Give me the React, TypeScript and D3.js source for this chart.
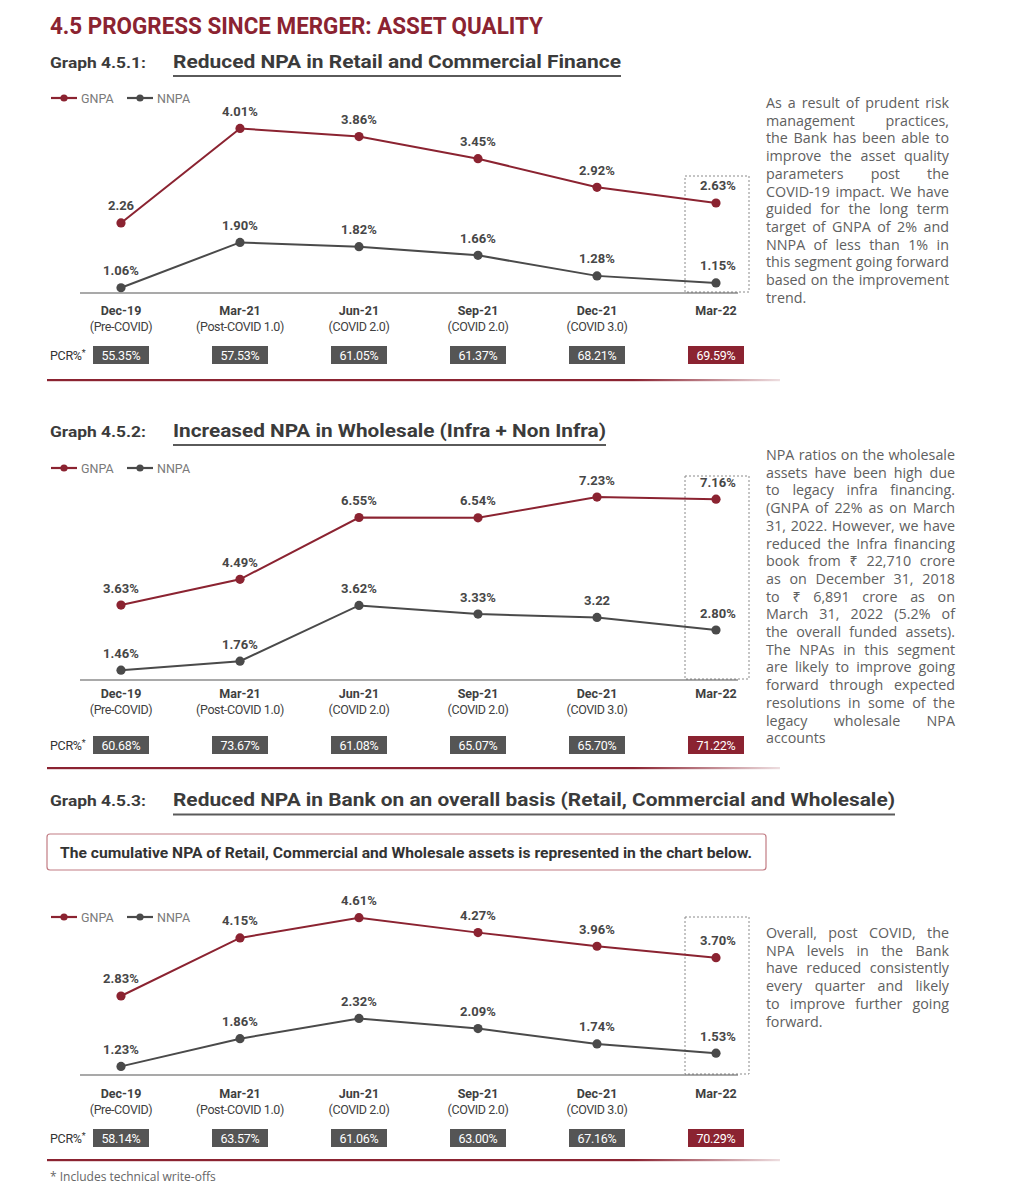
import React, { useLayoutEffect, useRef } from 'react';
import * as d3 from 'd3';

const categories = ['Dec-19', 'Mar-21', 'Jun-21', 'Sep-21', 'Dec-21', 'Mar-22'];
const phases = ['(Pre-COVID)', '(Post-COVID 1.0)', '(COVID 2.0)', '(COVID 2.0)', '(COVID 3.0)', ''];

// Graph 4.5.1 retail and commercial
const retailGnpa = [2.26, 4.01, 3.86, 3.45, 2.92, 2.63];
const retailNnpa = [1.06, 1.9, 1.82, 1.66, 1.28, 1.15];
const retailPcr = [55.35, 57.53, 61.05, 61.37, 68.21, 69.59];

// Graph 4.5.2 wholesale
const wholesaleGnpa = [3.63, 4.49, 6.55, 6.54, 7.23, 7.16];
const wholesaleNnpa = [1.46, 1.76, 3.62, 3.33, 3.22, 2.8];
const wholesalePcr = [60.68, 73.67, 61.08, 65.07, 65.7, 71.22];

// Graph 4.5.3 overall
const overallGnpa = [2.83, 4.15, 4.61, 4.27, 3.96, 3.7];
const overallNnpa = [1.23, 1.86, 2.32, 2.09, 1.74, 1.53];
const overallPcr = [58.14, 63.57, 61.06, 63.0, 67.16, 70.29];

const retailText = [
  'As a result of prudent risk',
  'management practices,',
  'the Bank has been able to',
  'improve the asset quality',
  'parameters post the',
  'COVID-19 impact. We have',
  'guided for the long term',
  'target of GNPA of 2% and',
  'NNPA of less than 1% in',
  'this segment going forward',
  'based on the improvement',
  'trend.',
];

const wholesaleText = [
  'NPA ratios on the wholesale',
  'assets have been high due',
  'to legacy infra financing.',
  '(GNPA of 22% as on March',
  '31, 2022. However, we have',
  'reduced the Infra financing',
  'book from \u20B9 22,710 crore',
  'as on December 31, 2018',
  'to \u20B9 6,891 crore as on',
  'March 31, 2022 (5.2% of',
  'the overall funded assets).',
  'The NPAs in this segment',
  'are likely to improve going',
  'forward through expected',
  'resolutions in some of the',
  'legacy wholesale NPA',
  'accounts',
];

const overallText = [
  'Overall, post COVID, the',
  'NPA levels in the Bank',
  'have reduced consistently',
  'every quarter and likely',
  'to improve further going',
  'forward.',
];

const RED = '#8b2331';
const GREY = '#4a4a4a';
const HEAD = 'Roboto, "Liberation Sans", sans-serif';
const BODY = '"Open Sans", "Noto Sans", sans-serif';

const pct = (v: number, plain: boolean) => (plain ? v.toFixed(2) : v.toFixed(2) + '%');

interface ChartProps {
  gnpa: number[];
  nnpa: number[];
  pcr: number[];
  plainG?: number[];
  plainN?: number[];
  zeroY: number;
  unitPx: number;
  legendY: number;
  boxTop: number;
  axisY: number;
  catY: number;
  pcrY: number;
  sepY: number;
}

const NpaChart: React.FC<ChartProps> = ({
  gnpa, nnpa, pcr, plainG = [], plainN = [], zeroY, unitPx, legendY, boxTop, axisY, catY, pcrY, sepY,
}) => {
  const x = d3.scalePoint<string>().domain(categories).range([121, 716]);
  const y = d3.scaleLinear().domain([0, 1]).range([zeroY, zeroY - unitPx]);
  const line = d3.line<number>().x((_, i) => x(categories[i]) as number).y(d => y(d));
  const last = x(categories[categories.length - 1]) as number;

  const series = [
    { vals: gnpa, color: RED, plain: plainG },
    { vals: nnpa, color: GREY, plain: plainN },
  ];

  return (
    <g>
      {/* legend */}
      {[{ name: 'GNPA', color: RED, x0: 51 }, { name: 'NNPA', color: GREY, x0: 127 }].map(l => (
        <g key={l.name}>
          <line x1={l.x0} x2={l.x0 + 26} y1={legendY} y2={legendY} stroke={l.color} strokeWidth={2.2} />
          <circle cx={l.x0 + 13} cy={legendY} r={3.6} fill={l.color} />
          <text x={l.x0 + 30} y={legendY + 4.5} fontFamily={HEAD} fontSize={12.5} fill="#7a7a7a">{l.name}</text>
        </g>
      ))}

      {/* highlight box */}
      <rect x={685} y={boxTop} width={64} height={axisY - 1 - boxTop} fill="none" stroke="#8a8a8a" strokeWidth={1} strokeDasharray="2,2" />

      {/* axis */}
      <line x1={80} x2={738} y1={axisY} y2={axisY} stroke="#555" strokeWidth={1.2} />

      {series.map((s, si) => (
        <g key={si}>
          <path d={line(s.vals) as string} fill="none" stroke={s.color} strokeWidth={2} />
          {s.vals.map((v, i) => (
            <circle key={i} cx={x(categories[i])} cy={y(v)} r={4.6} fill={s.color} />
          ))}
          {s.vals.map((v, i) => (
            <text key={'t' + i} x={(x(categories[i]) as number) + (i === 5 ? 2 : 0)} y={y(v) - 12.5}
              textAnchor="middle" fontFamily={HEAD} fontWeight={700} fontSize={13} fill="#474747">
              {pct(v, s.plain.includes(i))}
            </text>
          ))}
        </g>
      ))}

      {/* category labels */}
      {categories.map((c, i) => (
        <g key={c} fontFamily={HEAD} fill="#3f3f3f" textAnchor="middle" fontSize={12.5}>
          <text x={x(c)} y={catY} fontWeight={700}>{c}</text>
          {phases[i] && <text x={x(c)} y={catY + 16} letterSpacing={-0.4}>{phases[i]}</text>}
        </g>
      ))}

      {/* PCR row */}
      <text x={50} y={pcrY + 4.5} fontFamily={HEAD} fontSize={12.5} fill="#333" letterSpacing={-0.3}>
        PCR%<tspan fontSize={9} dy={-4}>*</tspan>
      </text>
      {pcr.map((p, i) => (
        <g key={i}>
          <rect x={(x(categories[i]) as number) - 28} y={pcrY - 9} width={56} height={18}
            fill={i === pcr.length - 1 ? RED : '#555'} />
          <text x={x(categories[i])} y={pcrY + 4.5} textAnchor="middle" fontFamily={HEAD} fontSize={12.5}
            fill="#fff" letterSpacing={-0.3}>
            {p.toFixed(2)}%
          </text>
        </g>
      ))}

      {/* separator */}
      <rect x={47} y={sepY - 1} width={last + 64 - 47} height={2.2} fill="url(#sepGrad)" />
    </g>
  );
};

// justified paragraph: word spacing set after measuring each line
const Paragraph: React.FC<{ lines: string[]; top: number; width: number }> = ({ lines, top, width }) => {
  const gRef = useRef<SVGGElement>(null);

  useLayoutEffect(() => {
    if (!gRef.current) return;
    const texts = gRef.current.querySelectorAll('text');
    texts.forEach((t, i) => {
      if (i === lines.length - 1) return;
      const gaps = (lines[i].match(/ /g) || []).length;
      if (!gaps) return;
      t.setAttribute('word-spacing', '0');
      const len = (t as SVGTextElement).getComputedTextLength();
      t.setAttribute('word-spacing', String((width - len) / gaps));
    });
  }, [lines, width]);

  return (
    <g ref={gRef} fontFamily={BODY} fontSize={14.3} fill="#606060">
      {lines.map((l, i) => (
        <text key={i} x={766} y={top + i * 17.7 + 5} style={{ whiteSpace: 'pre' }}>
          {l}
        </text>
      ))}
    </g>
  );
};

const Heading: React.FC<{ label: string; title: string; y: number; titleWidth: number }> = ({ label, title, y, titleWidth }) => (
  <g fontFamily={HEAD} fontWeight={700} fill="#3b3b3b">
    <text x={50} y={y} fontSize={15} textLength={96} lengthAdjust="spacingAndGlyphs">{label}</text>
    <text x={173} y={y} fontSize={18.5} textLength={titleWidth} lengthAdjust="spacingAndGlyphs">{title}</text>
    <line x1={173} x2={173 + titleWidth} y1={y + 8.5} y2={y + 8.5} stroke="#5a5a5a" strokeWidth={2} />
  </g>
);

export default function App() {
  return (
    <svg width={1014} height={1200} style={{ position: 'absolute', left: 0, top: 0, background: '#fff' }}>
      <defs>
        <linearGradient id="sepGrad" x1="0" x2="1" y1="0" y2="0">
          <stop offset="0" stopColor={RED} />
          <stop offset="0.8" stopColor={RED} />
          <stop offset="1" stopColor={RED} stopOpacity={0.15} />
        </linearGradient>
      </defs>
      <rect width={1014} height={1200} fill="#fff" />

      <text x={50} y={34} fontFamily={HEAD} fontWeight={700} fontSize={23} fill={RED}
        textLength={493} lengthAdjust="spacingAndGlyphs">
        4.5 PROGRESS SINCE MERGER: ASSET QUALITY
      </text>

      <Heading label="Graph 4.5.1:" title="Reduced NPA in Retail and Commercial Finance" y={67.5} titleWidth={448} />
      <NpaChart gnpa={retailGnpa} nnpa={retailNnpa} pcr={retailPcr} plainG={[0]}
        zeroY={345} unitPx={54} legendY={98} boxTop={176} axisY={293} catY={315} pcrY={355} sepY={380} />
      <Paragraph lines={retailText} top={103} width={183} />

      <Heading label="Graph 4.5.2:" title="Increased NPA in Wholesale (Infra + Non Infra)" y={436.5} titleWidth={433} />
      <NpaChart gnpa={wholesaleGnpa} nnpa={wholesaleNnpa} pcr={wholesalePcr} plainN={[4]}
        zeroY={714} unitPx={30} legendY={468} boxTop={476} axisY={680} catY={698} pcrY={745} sepY={768} />
      <Paragraph lines={wholesaleText} top={455} width={189} />

      <Heading label="Graph 4.5.3:" title="Reduced NPA in Bank on an overall basis (Retail, Commercial and Wholesale)" y={806} titleWidth={722} />
      <rect x={47} y={834} width={719} height={36} rx={3} fill="none" stroke="#c27c84" strokeWidth={1.2} />
      <text x={60} y={857.5} fontFamily={HEAD} fontWeight={700} fontSize={14} fill="#333"
        textLength={692} lengthAdjust="spacingAndGlyphs">
        The cumulative NPA of Retail, Commercial and Wholesale assets is represented in the chart below.
      </text>
      <NpaChart gnpa={overallGnpa} nnpa={overallNnpa} pcr={overallPcr}
        zeroY={1120.5} unitPx={44} legendY={917} boxTop={917} axisY={1075} catY={1098} pcrY={1138} sepY={1160} />
      <Paragraph lines={overallText} top={933} width={183} />

      <text x={50} y={1181} fontFamily={BODY} fontSize={12} fill="#666">* Includes technical write-offs</text>
    </svg>
  );
}
